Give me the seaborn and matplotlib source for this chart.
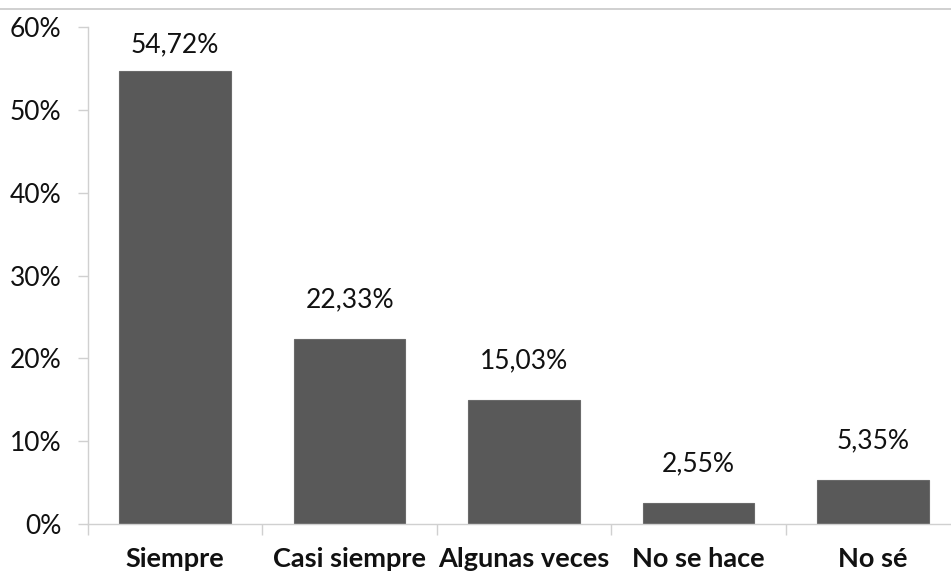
import matplotlib
matplotlib.use("Agg")
import matplotlib.pyplot as plt
import seaborn as sns
import pandas as pd
from matplotlib.lines import Line2D
from matplotlib.ticker import FuncFormatter, FixedLocator

# ---------------------------------------------------------
# Data
# ---------------------------------------------------------

categories = ["Siempre", "Casi siempre", "Algunas veces", "No se hace", "No sé"]
values = [54.72, 22.33, 15.03, 2.55, 5.35]
y_ticks = [0, 10, 20, 30, 40, 50, 60]

df = pd.DataFrame({"cat": categories, "val": values})

# ---------------------------------------------------------
# Style
# ---------------------------------------------------------

sns.set_style("white")
plt.rcParams["font.family"] = ["Lato", "DejaVu Sans"]

fig = plt.figure(figsize=(9.51, 5.73), dpi=100)
ax = fig.add_axes([88 / 951, 49 / 573, 872 / 951, 497 / 573])

sns.barplot(
    data=df,
    x="cat",
    y="val",
    color="#595959",
    saturation=1,
    width=0.64,
    edgecolor="#6a6a6a",
    linewidth=0.8,
    ax=ax,
)

ax.set_xlim(-0.5, len(categories) - 0.5)
ax.set_ylim(0, 60)
ax.set_yticks(y_ticks)
ax.yaxis.set_major_formatter(FuncFormatter(lambda v, _: f"{v:.0f}%"))

# data labels sit above the bars, kept inside the plot area
for i, v in enumerate(values):
    ax.text(
        i, min(v + 4.7, 57.9), f"{v:.2f}%".replace(".", ","),
        ha="center", va="center", fontsize=19, color="#111111"
    )

ax.set_xlabel("")
ax.set_ylabel("")

for side in ["top", "right"]:
    ax.spines[side].set_visible(False)
for side in ["left", "bottom"]:
    ax.spines[side].set_color("#d0d0d0")
    ax.spines[side].set_linewidth(1.0)

ax.tick_params(axis="y", which="major", left=True, length=7, width=1.0,
               color="#d0d0d0", labelsize=19, labelcolor="#111111", pad=12)
ax.tick_params(axis="x", which="major", bottom=False, labelsize=19.5,
               labelcolor="#111111", pad=13)
for lbl in ax.get_xticklabels():
    lbl.set_fontweight("bold")

ax.xaxis.set_minor_locator(FixedLocator([i - 0.5 for i in range(len(categories) + 1)]))
ax.tick_params(axis="x", which="minor", bottom=True, length=8, width=1.0,
               color="#d0d0d0")

# Chart border line at top
fig.add_artist(Line2D([0, 1], [1 - 9 / 573, 1 - 9 / 573],
                      transform=fig.transFigure, color="#c8c8c8", linewidth=1.2))

fig.savefig("out.png", dpi=100)
